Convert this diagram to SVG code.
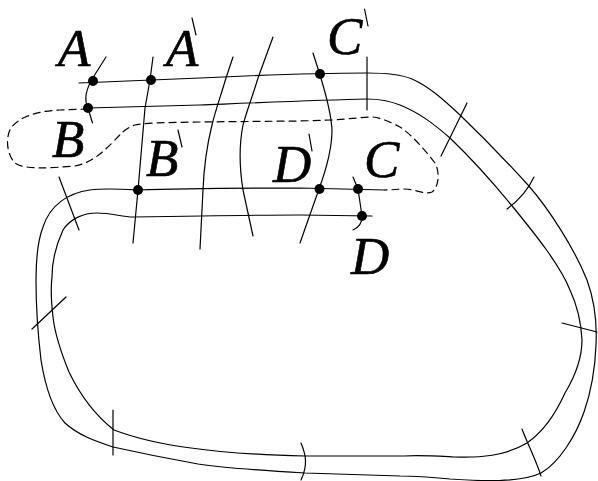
<svg xmlns="http://www.w3.org/2000/svg" width="598" height="481" viewBox="0 0 598 481">
<style>
.l{fill:none;stroke:#000;stroke-width:1.2;stroke-linecap:round;stroke-linejoin:round}
.d{stroke-dasharray:7 5}
.p{fill:#000}
text{font-family:"Liberation Serif","Times New Roman",serif;font-style:italic;font-size:53px;fill:#000;stroke:#000;stroke-width:.6}
</style>
<rect width="598" height="481" fill="#fff"/>
<g id="connectors">
<path id="outer" class="l" d="M79 83 L200 78 C260 75 320 73 367 73 C385 73 400 74 412 79 C430 87 445 101 460 115 C485 139 508 163 528 185 C550 210 575 250 587 280 C595 302 597 325 596 345 C595 370 590 395 584 412 C576 435 560 462 541 473 C520 483 480 481 450 479 C430 477 420 476 400 476 C370 475 335 474 305 473 C270 471 225 468 198 464 C170 459 140 453 113 447 C95 441 78 435 65 423 C53 410 45 385 41 360 C38 335 36 305 36 280 C36 255 38 240 43 227 C50 205 68 193 90 190 C105 188 120 189 138 190 C190 188 250 188 300 188 L385 190"/>
<path id="inner" class="l" d="M88 108 L200 105 C250 103 320 100 367 99 C380 99 390 101 400 105 C420 113 435 125 450 138 C475 162 495 185 513 207 C535 234 560 265 570 290 C577 305 581 320 582 340 C582 360 574 378 565 393 C555 415 543 432 527 443 C505 456 480 458 454 457 C435 456 420 455 404 456 C370 456 335 456 305 456 C265 455 225 453 191 448 C160 444 135 438 114 430 C95 415 80 395 69 372 C60 350 55 335 53 317 C51 300 51 285 52 277 C52 260 57 243 63 230 C70 219 83 213 97 213 C112 213 122 217 133 217 C190 216 250 215 300 215 L372 216"/>
<path id="dash-left" class="l d" d="M88 109 L60 110 C35 111 18 118 11 128 C5 138 7 155 15 163 C25 170 50 168 75 166 C90 163 100 155 112 143 C120 135 125 128 135 125 C145 122 200 122 300 121 L332 120 C350 119 362 117 373 117 C382 118 392 123 400 127 C412 135 425 150 435 163 C440 172 439 187 432 192 C425 195 415 189 405 189 C398 189 392 190 385 190"/>
<path class="l" d="M106 57 L94 76 C85 90 84 100 88 108 L92.500 123"/>
<path class="l" d="M153 57 L150 80 L145 108 L138 190 L133 243"/>
<path class="l" d="M233 57 L226 78 C221 95 215 112 212 125 C207 145 204 165 203 190 L200 249"/>
<path class="l" d="M273 37 L258 78 C253 95 247 110 243 125 C239 145 239 165 243 190 L253 236"/>
<path class="l" d="M313 53 L320 75 C325 92 331 110 332 130 C332 150 326 170 319 189 L300 243"/>
<path class="l" d="M353 177 L358 189 L362 216 C362 224 358 228 353 230"/>
<path class="l" d="M367 57 V110"/>
<path class="l" d="M467 103 L441 156"/>
<path class="l" d="M534 177 C528 190 518 201 507 209"/>
<path class="l" d="M562 323 L597 332"/>
<path class="l" d="M522 429 C528 445 536 460 541 476"/>
<path class="l" d="M301 443 C306 455 308 465 301 480"/>
<path class="l" d="M113 410 V455"/>
<path class="l" d="M66 297 L32 329"/>
<path class="l" d="M59 177 L79 230"/>
</g>
<g id="node-A"><circle class="p" cx="93" cy="81" r="5"/><text x="58" y="66">A</text></g>
<g id="node-A-prime"><circle class="p" cx="151" cy="80" r="5"/><text x="166" y="66">A</text><path class="l" d="M192 18 L196 35"/></g>
<g id="node-C-prime"><circle class="p" cx="320" cy="74" r="5"/><text x="327" y="54">C</text><path class="l" d="M364.500 9 L368 26"/></g>
<g id="node-B"><circle class="p" cx="88" cy="108" r="5"/><text x="52" y="157">B</text></g>
<g id="node-B-prime"><circle class="p" cx="138" cy="190" r="5"/><text x="146" y="176">B</text><path class="l" d="M178 130 L182 147"/></g>
<g id="node-D-prime"><circle class="p" cx="319.500" cy="189" r="5"/><text x="273" y="182">D</text><path class="l" d="M309 134 L312 151"/></g>
<g id="node-C"><circle class="p" cx="358" cy="189" r="5"/><text x="364" y="177">C</text></g>
<g id="node-D"><circle class="p" cx="362" cy="216" r="5"/><text x="351" y="274">D</text></g>
</svg>
